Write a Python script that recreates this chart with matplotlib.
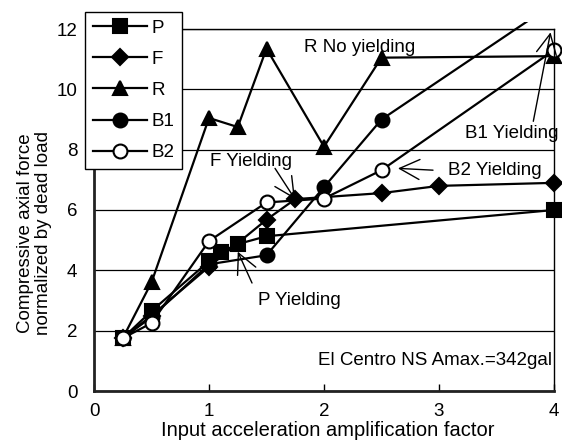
import matplotlib
matplotlib.use('Agg')
import matplotlib.pyplot as plt
from matplotlib.patches import Rectangle

plt.rcParams['font.family'] = ['Liberation Sans', 'DejaVu Sans']

# data
p_x = [0.25, 0.5, 1.0, 1.1, 1.25, 1.5, 4.0]
p_y = [1.75, 2.65, 4.3, 4.6, 4.87, 5.13, 6.0]
f_x = [0.25, 0.5, 1.0, 1.5, 1.75, 2.5, 3.0, 4.0]
f_y = [1.75, 2.5, 4.12, 5.68, 6.36, 6.56, 6.8, 6.9]
r_x = [0.25, 0.5, 1.0, 1.25, 1.5, 2.0, 2.5, 4.0]
r_y = [1.75, 3.6, 9.05, 8.75, 11.35, 8.1, 11.05, 11.1]
b1_x = [0.25, 0.5, 1.0, 1.5, 2.0, 2.5, 4.0]
b1_y = [1.75, 2.45, 4.2, 4.5, 6.76, 9.0, 12.85]
b2_x = [0.25, 0.5, 1.0, 1.5, 2.0, 2.5, 4.0]
b2_y = [1.75, 2.25, 4.97, 6.25, 6.38, 7.32, 11.3]

fig = plt.figure(figsize=(5.62, 4.41), dpi=100)
fig.patch.set_facecolor('white')
ax = fig.add_axes([94/562, 1-391/441, 460/562, 362/441])

# clip a bit outside the frame so end markers are whole and B1 pokes out on top
clip = Rectangle((-0.05, -0.05), 1.1, 1.068, transform=ax.transAxes)

series = [
    ('P', p_x, p_y, dict(marker='s', ms=10, mfc='black')),
    ('F', f_x, f_y, dict(marker='D', ms=8, mfc='black')),
    ('R', r_x, r_y, dict(marker='^', ms=10, mfc='black')),
    ('B1', b1_x, b1_y, dict(marker='o', ms=10, mfc='black')),
    ('B2', b2_x, b2_y, dict(marker='o', ms=10, mfc='white')),
]
for name, xs, ys, st in series:
    ln, = ax.plot(xs, ys, color='black', lw=1.6, mec='black', mew=1.5, label=name, **st)
    ln.set_clip_path(clip)

ax.set_xlim(0, 4)
ax.set_ylim(0, 12)
ax.set_yticks([0, 2, 4, 6, 8, 10, 12])
ax.set_xticks([0, 1, 2, 3, 4])
ax.yaxis.grid(True, color='black', lw=0.9)
ax.set_axisbelow(True)

ax.tick_params(axis='y', length=0, pad=12, labelsize=13.5)
ax.tick_params(axis='x', direction='in', length=5, width=1, pad=9, labelsize=13.5)

for side in ['left', 'bottom']:
    ax.spines[side].set_linewidth(2)
    ax.spines[side].set_color('#222222')
for side in ['right', 'top']:
    ax.spines[side].set_linewidth(1)

ax.set_xlabel('Input acceleration amplification factor', fontsize=14.5)
ax.xaxis.set_label_coords(0.509, -0.082)
ax.set_ylabel('Compressive axial force\nnormalized by dead load', fontsize=13.5,
              va='center', linespacing=1.1)
ax.yaxis.set_label_coords(-0.13, 0.436)

# annotations
fs = 13.5
ax.text(2.313, 11.39, 'R No yielding', fontsize=fs, ha='center', va='center')
ax.text(1.009, 7.62, 'F Yielding', fontsize=fs, ha='left', va='center')
ax.text(1.43, 3.0, 'P Yielding', fontsize=fs, ha='left', va='center')
ax.text(3.078, 7.32, 'B2 Yielding', fontsize=fs, ha='left', va='center')
ax.text(3.226, 8.54, 'B1 Yielding', fontsize=fs, ha='left', va='center', clip_on=False)
ax.text(3.98, 1.0, 'El Centro NS Amax.=342gal', fontsize=fs, ha='right', va='center',
        bbox=dict(fc='white', ec='none', pad=1))

arrows = [
    ((1.748, 6.36), (1.574, 7.38)),
    ((1.25, 4.62), (1.374, 3.58)),
    ((2.643, 7.38), (2.948, 7.32)),
    ((3.97, 11.89), (3.82, 8.94)),
]
for tip, start in arrows:
    ax.annotate('', xy=tip, xytext=start, annotation_clip=False,
                arrowprops=dict(arrowstyle='->,head_length=0.72,head_width=0.36',
                                mutation_scale=20, color='black', lw=1,
                                shrinkA=0, shrinkB=0))

leg = ax.legend(loc='upper left', bbox_to_anchor=(85/562, 1-12/441),
                bbox_transform=fig.transFigure, borderaxespad=0, fontsize=13.5,
                handlelength=2.9, handletextpad=0.25, labelspacing=0.75,
                borderpad=0.4, fancybox=False, framealpha=1, edgecolor='black')
leg.get_frame().set_linewidth(1)

fig.savefig('out.png', dpi=100)
